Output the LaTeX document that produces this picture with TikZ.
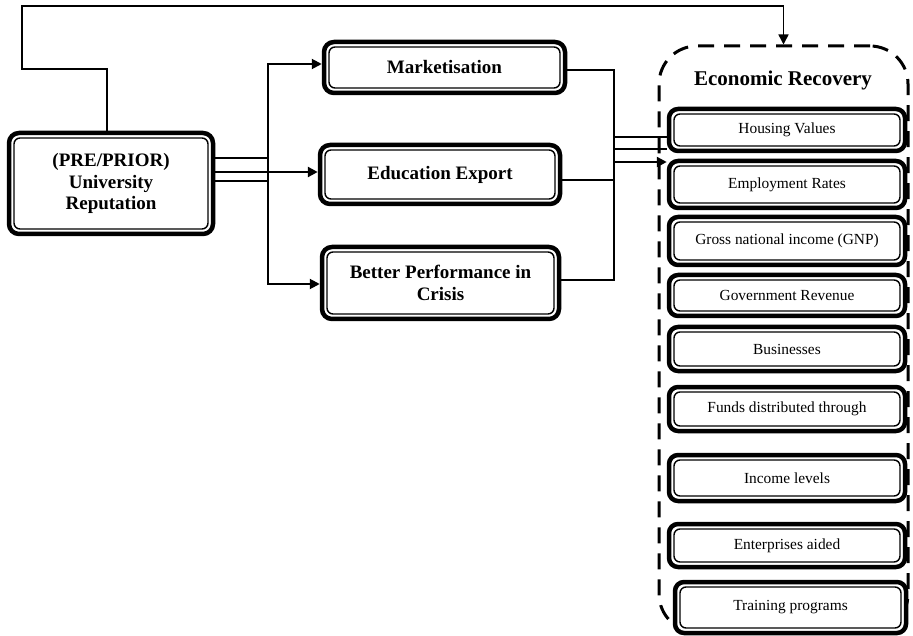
\documentclass[tikz,border=0pt]{standalone}
\usepackage{fontspec}
\setmainfont{Liberation Serif}
\usetikzlibrary{arrows.meta,positioning,calc}

\tikzset{
  framebox/.style={draw, line width=4.5pt, rounded corners=10pt, fill=white,
                   align=center, inner sep=2pt,
    path picture={\draw[line width=1.4pt, rounded corners=6pt]
      ([shift={(5pt,5pt)}]path picture bounding box.south west) rectangle
      ([shift={(-5pt,-5pt)}]path picture bounding box.north east);}},
  mainbox/.style={framebox, font=\fontsize{19}{21.7}\selectfont\bfseries},
  itembox/.style={framebox, minimum width=236pt, rounded corners=9pt,
                  font=\fontsize{15.4}{18}\selectfont},
  link/.style={line width=2pt},
  arrow/.style={link, -{Triangle[length=10pt,width=10pt]}}
}

\begin{document}
\begin{tikzpicture}[x=1pt, y=-1pt]
  \useasboundingbox (0,0) rectangle (913,636);

  % dashed group on the right
  \node[draw, line width=3pt, dash pattern=on 16pt off 10pt, rounded corners=38pt,
        minimum width=249pt, minimum height=586pt] (rec) at (783.5,339) {};
  \node[font=\fontsize{21}{24}\selectfont\bfseries] (rectitle) at (783,80) {Economic Recovery};

  % main boxes
  \node[mainbox, minimum width=204pt, minimum height=101pt] (uni)  at (111,183.5) {(PRE/PRIOR)\\University\\Reputation};
  \node[mainbox, minimum width=241pt, minimum height=51pt]  (mkt)  at (444.5,67.5) {Marketisation};
  \node[mainbox, minimum width=240pt, minimum height=59pt]  (edu)  at (440,174.5) {Education Export};
  \node[mainbox, minimum width=237pt, minimum height=72pt]  (perf) at (440.5,283) {Better Performance in\\Crisis};

  % recovery items
  \node[itembox, minimum height=42pt] (house)  at (787,130)   {Housing Values};
  \node[itembox, minimum height=47pt] (employ) at (787,184.5) {Employment Rates};
  \node[itembox, minimum height=48pt] (gnp)    at (787,241)   {Gross national income (GNP)};
  \node[itembox, minimum height=41pt] (govrev) at (787,295.5) {Government Revenue};
  \node[itembox, minimum height=44pt] (busi)   at (787,349)   {Businesses};
  \node[itembox, minimum height=44pt] (funds)  at (787,409)   {Funds distributed through};
  \node[itembox, minimum height=46pt] (income) at (787,478)   {Income levels};
  \node[itembox, minimum height=43pt] (enter)  at (787,545.5) {Enterprises aided};
  \node[itembox, minimum height=51pt, minimum width=231pt] (train) at (790.5,607.5) {Training programs};

  % bus lines
  \coordinate (lbus) at (268,0);
  \coordinate (rbus) at (614,0);

  % reputation to the three channels
  \draw[link, line width=1.6pt] (uni.east |- 0,158) -- (lbus |- 0,158);
  \draw[link, line width=1.6pt] (uni.east |- 0,181) -- (lbus |- 0,181);
  \draw[arrow, line width=2.6pt] (uni.east |- 0,172) -- (edu.west |- 0,172);
  \draw[arrow] (lbus |- 0,172) |- (mkt.west |- 0,64);
  \draw[arrow] (lbus |- 0,172) |- (perf.west |- 0,284);

  % channels to recovery
  \draw[link] (mkt.east |- 0,70) -| (rbus |- 0,280) -- (perf.east |- 0,280);
  \draw[link] (edu.east |- 0,180) -- (rbus |- 0,180);
  \draw[link, line width=1.6pt] (rbus |- 0,137) -- (house.west |- 0,137);
  \draw[link, line width=1.6pt] (rbus |- 0,149) -- (house.west |- 0,149);
  \draw[arrow, line width=2.4pt] (rbus |- 0,162) -- (house.west |- 0,162);

  % direct link over the top
  \draw[line width=1.5pt, -{Triangle[length=10pt,width=10pt]}]
    (uni.north -| 107,0) |- (22,69) |- (rec.north |- 0,6) -- (rec.north);
\end{tikzpicture}
\end{document}
